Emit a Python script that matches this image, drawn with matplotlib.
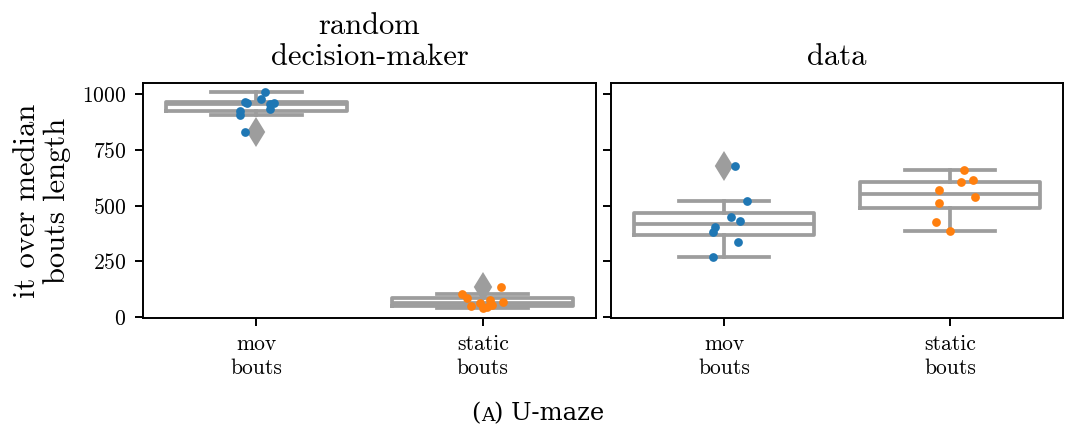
import numpy as np
import matplotlib
matplotlib.use("Agg")
import matplotlib.pyplot as plt

# bout lengths (iterations over median), one list per panel / category
categories = ["mov\nbouts", "static\nbouts"]
panel_titles = ["random\ndecision-maker", "data"]

rand_mov = [1009, 964, 960, 978, 955, 960, 933, 924, 906, 830]
rand_static = [103, 85, 49, 63, 40, 45, 76, 54, 66, 135]
data_mov = [677, 520, 448, 430, 404, 381, 336, 269]
data_static = [659, 605, 614, 569, 538, 511, 426, 386]

# horizontal spread of the dots around each category
rand_mov_jit = [0.04, -0.05, -0.04, 0.02, 0.06, 0.08, 0.06, -0.07, -0.07, -0.05]
rand_static_jit = [-0.09, -0.07, -0.05, -0.01, 0.0, 0.02, 0.03, 0.04, 0.09, 0.08]
data_mov_jit = [0.05, 0.10, 0.03, 0.07, -0.04, -0.05, 0.06, -0.05]
data_static_jit = [0.06, 0.05, 0.10, -0.05, 0.11, -0.05, -0.06, 0.0]

yticks = [0, 250, 500, 750, 1000]

plt.rcParams["font.family"] = ["cmr10", "DejaVu Serif"]
plt.rcParams["axes.formatter.use_mathtext"] = True
plt.rcParams["mathtext.fontset"] = "cm"

gray = "#9d9d9d"
dot_colors = ["#1f77b4", "#ff7f0e"]

fig = plt.figure(figsize=(10.67, 4.33), dpi=100)
ax1 = fig.add_axes([0.134, 0.2656, 0.4246, 0.5427])
ax2 = fig.add_axes([0.5726, 0.2656, 0.4237, 0.5427], sharey=ax1)

panels = [
    (ax1, [rand_mov, rand_static], [rand_mov_jit, rand_static_jit]),
    (ax2, [data_mov, data_static], [data_mov_jit, data_static_jit]),
]

lw = 2.7
for (ax, groups, jits), title in zip(panels, panel_titles):
    ax.boxplot(groups, positions=[0, 1], widths=0.8, whis=1.5,
               capwidths=0.4, patch_artist=False,
               boxprops=dict(color=gray, linewidth=lw),
               whiskerprops=dict(color=gray, linewidth=lw),
               capprops=dict(color=gray, linewidth=lw),
               medianprops=dict(color=gray, linewidth=lw),
               flierprops=dict(marker="d", markersize=13,
                               markerfacecolor=gray, markeredgecolor=gray,
                               markeredgewidth=1.5),
               zorder=2)
    for i, (vals, jit) in enumerate(zip(groups, jits)):
        ax.plot(np.array(jit) + i, vals, "o", color=dot_colors[i],
                markersize=6.3, markeredgewidth=0, zorder=3)
    ax.set_xlim(-0.5, 1.5)
    ax.set_xticks([0, 1])
    ax.set_xticklabels(categories, fontsize=15.5, linespacing=1.25)
    ax.set_title(title, fontsize=22, linespacing=1.15, pad=13)
    ax.tick_params(axis="both", length=6, width=1.4, labelsize=15.5)
    ax.tick_params(axis="x", pad=6)
    ax.tick_params(axis="y", pad=6)
    for sp in ax.spines.values():
        sp.set_linewidth(1.4)

ax1.set_ylim(-5, 1050)
ax1.set_yticks(yticks)
ax1.set_ylabel("it over median\nbouts length", fontsize=22, linespacing=1.1,
               labelpad=8)
ax2.tick_params(axis="y", labelleft=False)

# caption with a small-caps panel letter
cap_font = "DejaVu Serif"
t1 = fig.text(0.442, 0.03, "(", fontsize=17.5, family=cap_font)
t2 = plt.annotate("A", xy=(1, 0), xycoords=t1, fontsize=13.5,
                  family=cap_font, va="bottom", ha="left",
                  annotation_clip=False)
t3 = plt.annotate(") U-maze", xy=(1, 0), xycoords=t2, fontsize=17.5,
                  family=cap_font, va="bottom", ha="left",
                  annotation_clip=False)

fig.savefig("out.png", dpi=100)
